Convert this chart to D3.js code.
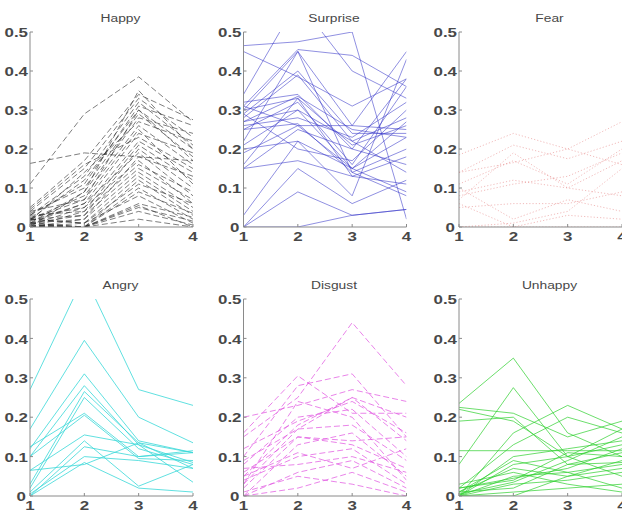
<!DOCTYPE html>
<html>
<head>
<meta charset="utf-8">
<script src="https://cdn.jsdelivr.net/npm/d3@7"></script>
<style>
  body { margin: 0; background: #fff; }
  svg { display: block; }
</style>
</head>
<body>
<svg id="chart" width="622" height="517"></svg>
<script>
// x positions and ticks
const xTicks = [1, 2, 3, 4];
const yTicks = [0, 0.1, 0.2, 0.3, 0.4, 0.5];
const titles = ["Happy", "Surprise", "Fear", "Angry", "Disgust", "Unhappy"];

// each row is one line: value at x = 1, 2, 3, 4
const happy = [
  [0.163, 0.19, 0.18, 0.17], [0.11, 0.29, 0.385, 0.27], [0.05, 0.17, 0.34, 0.275],
  [0.04, 0.15, 0.33, 0.23], [0.03, 0.13, 0.32, 0.21], [0.02, 0.12, 0.30, 0.20],
  [0.035, 0.10, 0.29, 0.18], [0.01, 0.09, 0.28, 0.24], [0.02, 0.08, 0.26, 0.16],
  [0.04, 0.07, 0.25, 0.11], [0.01, 0.06, 0.24, 0.19], [0.005, 0.05, 0.22, 0.14],
  [0.03, 0.04, 0.21, 0.12], [0.02, 0.03, 0.20, 0.10], [0.015, 0.06, 0.19, 0.08],
  [0.01, 0.02, 0.18, 0.13], [0.025, 0.05, 0.17, 0.06], [0.0, 0.04, 0.16, 0.09],
  [0.01, 0.03, 0.15, 0.07], [0.0, 0.02, 0.14, 0.05], [0.02, 0.01, 0.13, 0.04],
  [0.005, 0.0, 0.12, 0.03], [0.0, 0.01, 0.11, 0.06], [0.01, 0.0, 0.10, 0.02],
  [0.0, 0.0, 0.09, 0.035], [0.02, 0.01, 0.08, 0.01], [0.0, 0.0, 0.06, 0.025],
  [0.01, 0.0, 0.055, 0.0], [0.0, 0.0, 0.05, 0.015], [0.005, 0.0, 0.04, 0.005],
  [0.0, 0.0, 0.02, 0.0], [0.03, 0.11, 0.31, 0.26], [0.015, 0.14, 0.27, 0.22],
  [0.045, 0.16, 0.23, 0.15], [0.0, 0.09, 0.35, 0.20], [0.02, 0.07, 0.30, 0.17]
];
const surprise = [
  [0.465, 0.475, 0.5, 0.02], [0.45, 0.385, 0.31, 0.38], [0.34, 0.58, 0.40, 0.33],
  [0.31, 0.455, 0.44, 0.36], [0.30, 0.45, 0.26, 0.45], [0.29, 0.40, 0.24, 0.24],
  [0.28, 0.39, 0.22, 0.28], [0.27, 0.335, 0.25, 0.23], [0.30, 0.33, 0.21, 0.26],
  [0.25, 0.32, 0.16, 0.36], [0.21, 0.30, 0.15, 0.27], [0.19, 0.26, 0.26, 0.25],
  [0.25, 0.265, 0.14, 0.20], [0.16, 0.33, 0.13, 0.18], [0.15, 0.25, 0.20, 0.16],
  [0.15, 0.17, 0.13, 0.11], [0.20, 0.22, 0.15, 0.09], [0.03, 0.22, 0.08, 0.43],
  [0.0, 0.15, 0.06, 0.12], [0.0, 0.09, 0.03, 0.045], [0.0, 0.0, 0.03, 0.045],
  [0.26, 0.28, 0.23, 0.32], [0.31, 0.26, 0.15, 0.23], [0.29, 0.20, 0.17, 0.30],
  [0.22, 0.45, 0.14, 0.08], [0.32, 0.34, 0.20, 0.38], [0.27, 0.30, 0.22, 0.14]
];
const fear = [
  [0.185, 0.24, 0.20, 0.27], [0.14, 0.21, 0.175, 0.22], [0.11, 0.17, 0.11, 0.20],
  [0.14, 0.165, 0.20, 0.16], [0.09, 0.12, 0.10, 0.08], [0.07, 0.19, 0.10, 0.17],
  [0.05, 0.06, 0.06, 0.09], [0.10, 0.02, 0.07, 0.04], [0.0, 0.0, 0.0, 0.0],
  [0.06, 0.0, 0.03, 0.02], [0.0, 0.01, 0.04, 0.15], [0.08, 0.11, 0.13, 0.19]
];
const angry = [
  [0.27, 0.56, 0.27, 0.23], [0.17, 0.395, 0.20, 0.135], [0.12, 0.31, 0.14, 0.11],
  [0.10, 0.28, 0.13, 0.085], [0.03, 0.265, 0.135, 0.07], [0.02, 0.25, 0.12, 0.08],
  [0.125, 0.21, 0.10, 0.11], [0.10, 0.205, 0.095, 0.09], [0.065, 0.155, 0.13, 0.035],
  [0.0, 0.125, 0.10, 0.115], [0.065, 0.08, 0.135, 0.11], [0.0, 0.085, 0.02, 0.01],
  [0.01, 0.14, 0.025, 0.08], [0.005, 0.10, 0.09, 0.07]
];
const disgust = [
  [0.15, 0.25, 0.44, 0.28], [0.20, 0.23, 0.27, 0.24], [0.16, 0.305, 0.21, 0.21],
  [0.10, 0.28, 0.31, 0.15], [0.05, 0.18, 0.25, 0.20], [0.03, 0.17, 0.25, 0.14],
  [0.08, 0.20, 0.22, 0.10], [0.06, 0.15, 0.14, 0.15], [0.02, 0.15, 0.13, 0.07],
  [0.0, 0.13, 0.16, 0.05], [0.04, 0.10, 0.12, 0.03], [0.07, 0.08, 0.10, 0.06],
  [0.0, 0.06, 0.09, 0.02], [0.01, 0.05, 0.03, 0.0], [0.0, 0.02, 0.06, 0.01],
  [0.09, 0.17, 0.18, 0.09], [0.12, 0.19, 0.24, 0.16], [0.03, 0.24, 0.20, 0.04],
  [0.05, 0.11, 0.07, 0.12]
];
const unhappy = [
  [0.235, 0.35, 0.16, 0.10], [0.08, 0.275, 0.10, 0.13], [0.225, 0.21, 0.15, 0.19],
  [0.22, 0.19, 0.10, 0.17], [0.19, 0.20, 0.08, 0.11], [0.115, 0.115, 0.115, 0.115],
  [0.0, 0.16, 0.23, 0.17], [0.02, 0.13, 0.20, 0.16], [0.0, 0.10, 0.12, 0.14],
  [0.01, 0.07, 0.05, 0.09], [0.0, 0.05, 0.06, 0.08], [0.02, 0.04, 0.11, 0.10],
  [0.0, 0.03, 0.04, 0.06], [0.01, 0.02, 0.08, 0.085], [0.03, 0.06, 0.03, 0.01],
  [0.0, 0.01, 0.02, 0.03], [0.0, 0.08, 0.10, 0.05], [0.02, 0.045, 0.07, 0.12],
  [0.01, 0.09, 0.06, 0.02], [0.0, 0.0, 0.05, 0.07], [0.005, 0.035, 0.09, 0.15]
];

const seriesList = [happy, surprise, fear, angry, disgust, unhappy];
const styles = [
  { color: "#2a2a2a", dash: "6,3", opacity: 0.6 },
  { color: "#3434c8", dash: null, opacity: 0.55 },
  { color: "#e06a6a", dash: "1.2,2", opacity: 0.45 },
  { color: "#3ad8d8", dash: null, opacity: 0.8 },
  { color: "#e050e0", dash: "6,3", opacity: 0.7 },
  { color: "#2ed02e", dash: null, opacity: 0.7 }
];

// layout of the 2x3 grid
const colLeft = [30, 243.5, 459];
const plotW = 163;
const rowTop = [32, 299];
const rowBottom = [227, 496];

const svg = d3.select("#chart");
const font = "'Liberation Sans', Arial, sans-serif";

function stretchText(g, x, y, str, anchor, size, weight, sx) {
  g.append("text")
    .attr("transform", `translate(${x},${y}) scale(${sx},1)`)
    .attr("text-anchor", anchor)
    .attr("dominant-baseline", "central")
    .style("font-family", font)
    .style("font-size", size + "px")
    .style("font-weight", weight)
    .style("fill", "#484848")
    .text(str);
}

seriesList.forEach((data, i) => {
  const row = Math.floor(i / 3), col = i % 3;
  const left = colLeft[col];
  const x = d3.scaleLinear().domain([1, 4]).range([left, left + plotW]);
  const y = d3.scaleLinear().domain([0, 0.5]).range([rowBottom[row], rowTop[row]]);
  const g = svg.append("g");

  const clipId = "clip" + i;
  svg.append("clipPath").attr("id", clipId)
    .append("rect")
    .attr("x", left).attr("y", rowTop[row])
    .attr("width", plotW).attr("height", rowBottom[row] - rowTop[row]);

  const line = d3.line().x((d, k) => x(xTicks[k])).y(d => y(d));
  const st = styles[i];

  g.append("g").attr("clip-path", `url(#${clipId})`)
    .selectAll("path")
    .data(data)
    .enter().append("path")
    .attr("d", line)
    .attr("fill", "none")
    .attr("stroke", st.color)
    .attr("stroke-width", 1)
    .attr("stroke-opacity", st.opacity)
    .attr("stroke-dasharray", st.dash);

  // axes (MATLAB style, inward ticks)
  g.append("line")
    .attr("x1", left).attr("x2", left)
    .attr("y1", y(0.5)).attr("y2", y(0))
    .attr("stroke", "#8a8a8a");
  g.append("line")
    .attr("x1", left).attr("x2", left + plotW)
    .attr("y1", y(0)).attr("y2", y(0))
    .attr("stroke", "#8a8a8a");
  g.selectAll(".yt").data(yTicks).enter().append("line")
    .attr("x1", left).attr("x2", left + 3)
    .attr("y1", d => y(d)).attr("y2", d => y(d))
    .attr("stroke", "#8a8a8a");
  g.selectAll(".xt").data(xTicks).enter().append("line")
    .attr("x1", d => x(d)).attr("x2", d => x(d))
    .attr("y1", y(0)).attr("y2", y(0) - 3)
    .attr("stroke", "#8a8a8a");

  yTicks.forEach(t => {
    const dx = t === 0 ? -4 : -2;
    stretchText(g, left + dx, y(t) + 0.5, t === 0 ? "0" : d3.format(".1f")(t), "end", 13, "bold", 1.3);
  });
  xTicks.forEach(t => {
    stretchText(g, x(t), y(0) + 9, String(t), "middle", 13, "bold", 1.3);
  });

  stretchText(g, left + plotW / 2 + 9, rowTop[row] - 14, titles[i], "middle", 11.5, "normal", 1.2);
});
</script>
</body>
</html>
